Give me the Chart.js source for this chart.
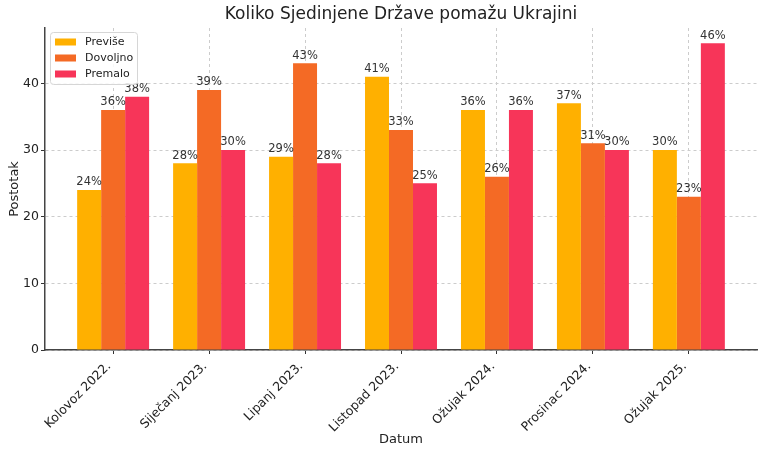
<!DOCTYPE html>
<html>
<head>
<meta charset="utf-8">
<script src="https://cdn.jsdelivr.net/npm/chart.js@4/dist/chart.umd.min.js"></script>
<style>
  html, body { margin: 0; padding: 0; background: #fff; }
  #wrap { width: 765px; height: 455px; }
</style>
</head>
<body>
<div id="wrap"><canvas id="barChart" width="765" height="455"></canvas></div>
<script>
var categories = ["Kolovoz 2022.", "Siječanj 2023.", "Lipanj 2023.", "Listopad 2023.", "Ožujak 2024.", "Prosinac 2024.", "Ožujak 2025."];
var previse = [24, 28, 29, 41, 36, 37, 30];
var dovoljno = [36, 39, 43, 33, 26, 31, 23];
var premalo = [38, 30, 28, 25, 36, 30, 46];
var yTicks = [0, 10, 20, 30, 40];
var chartTitle = "Koliko Sjedinjene Države pomažu Ukrajini";

var font = "'DejaVu Sans', sans-serif";

function points(values) {
	return values.map(function (v, i) { return { x: i, y: v }; });
}

// title centred over the plot area (not the whole canvas)
var plotTitle = {
	id: 'plotTitle',
	afterDraw: function (chart) {
		var ctx = chart.ctx, a = chart.chartArea;
		ctx.save();
		ctx.font = "17px " + font;
		ctx.fillStyle = '#222';
		ctx.textAlign = 'center';
		ctx.textBaseline = 'middle';
		ctx.fillText(chartTitle, (a.left + a.right) / 2, 15);
		ctx.restore();
	}
};

// percent labels above each bar
var barLabels = {
	id: 'barLabels',
	afterDatasetsDraw: function (chart) {
		var ctx = chart.ctx;
		ctx.save();
		ctx.font = "11.5px " + font;
		ctx.fillStyle = '#333';
		ctx.textAlign = 'center';
		ctx.textBaseline = 'bottom';
		chart.data.datasets.forEach(function (ds, di) {
			var meta = chart.getDatasetMeta(di);
			meta.data.forEach(function (bar, i) {
				ctx.fillText(ds.data[i].y + '%', bar.x, bar.y - 2);
			});
		});
		ctx.restore();
	}
};

// legend box in the upper left corner of the plot
var boxLegend = {
	id: 'boxLegend',
	afterDatasetsDraw: function (chart) {
		var ctx = chart.ctx, a = chart.chartArea;
		var x = a.left + 5, y = a.top + 4;
		var rows = chart.data.datasets.length;
		ctx.save();
		ctx.fillStyle = 'rgba(255,255,255,0.85)';
		ctx.strokeStyle = '#d6d6d6';
		ctx.lineWidth = 1;
		ctx.beginPath();
		ctx.roundRect(x + 0.5, y + 0.5, 87, 16 * rows + 4, 3);
		ctx.fill();
		ctx.stroke();
		ctx.font = "11px " + font;
		ctx.textBaseline = 'middle';
		ctx.textAlign = 'left';
		chart.data.datasets.forEach(function (ds, i) {
			var cy = y + 10 + i * 16;
			ctx.fillStyle = ds.backgroundColor;
			ctx.fillRect(x + 5, cy - 3.5, 21, 7);
			ctx.fillStyle = '#222';
			ctx.fillText(ds.label, x + 35, cy);
		});
		ctx.restore();
	}
};

var bar = document.getElementById('barChart');
var barChart = new Chart(bar, {
	type: 'bar',
	data: {
		datasets: [
		{
			label: "Previše",
			backgroundColor: "#FFB000",
			data: points(previse)
		},
		{
			label: "Dovoljno",
			backgroundColor: "#F46A25",
			data: points(dovoljno)
		},
		{
			label: "Premalo",
			backgroundColor: "#F73559",
			data: points(premalo)
		}]
	},
	options: {
		responsive: false,
		animation: false,
		categoryPercentage: 0.75,
		barPercentage: 1.0,
		layout: { padding: { left: 0, right: 8, top: 28, bottom: 0 } },
		plugins: {
			title: { display: false },
			legend: { display: false },
			tooltip: { enabled: false }
		},
		scales: {
			x: {
				type: 'linear',
				offset: false,
				min: -0.71,
				max: 6.71,
				afterBuildTicks: function (scale) {
					scale.ticks = categories.map(function (c, i) { return { value: i }; });
				},
				afterFit: function (scale) { scale.height = 105; },
				ticks: {
					color: '#222',
					font: { family: font, size: 12.5 },
					minRotation: 45,
					maxRotation: 45,
					padding: 5,
					labelOffset: -4,
					callback: function (v) { return categories[v]; }
				},
				grid: {
					offset: false,
					color: '#cccccc',
					tickColor: '#333',
					tickLength: 4,
					tickBorderDash: []
				},
				border: { display: true, color: '#444', width: 1.5, dash: [3, 3] },
				title: {
					display: true,
					text: 'Datum',
					color: '#222',
					font: { family: font, size: 13 },
					padding: { top: 0, bottom: 8 }
				}
			},
			y: {
				min: 0,
				max: 48.3,
				afterBuildTicks: function (scale) {
					scale.ticks = yTicks.map(function (v) { return { value: v }; });
				},
				afterFit: function (scale) { scale.width = 45; },
				ticks: {
					color: '#222',
					font: { family: font, size: 12.5 },
					padding: 2
				},
				grid: {
					color: '#cccccc',
					tickColor: '#333',
					tickLength: 4,
					tickBorderDash: []
				},
				border: { display: true, color: '#444', width: 1.5, dash: [3, 3] },
				title: {
					display: true,
					text: 'Postotak',
					color: '#222',
					font: { family: font, size: 13 },
					padding: { top: 7, bottom: 6 }
				}
			}
		}
	},
	plugins: [barLabels, boxLegend, plotTitle]
});
</script>
</body>
</html>
